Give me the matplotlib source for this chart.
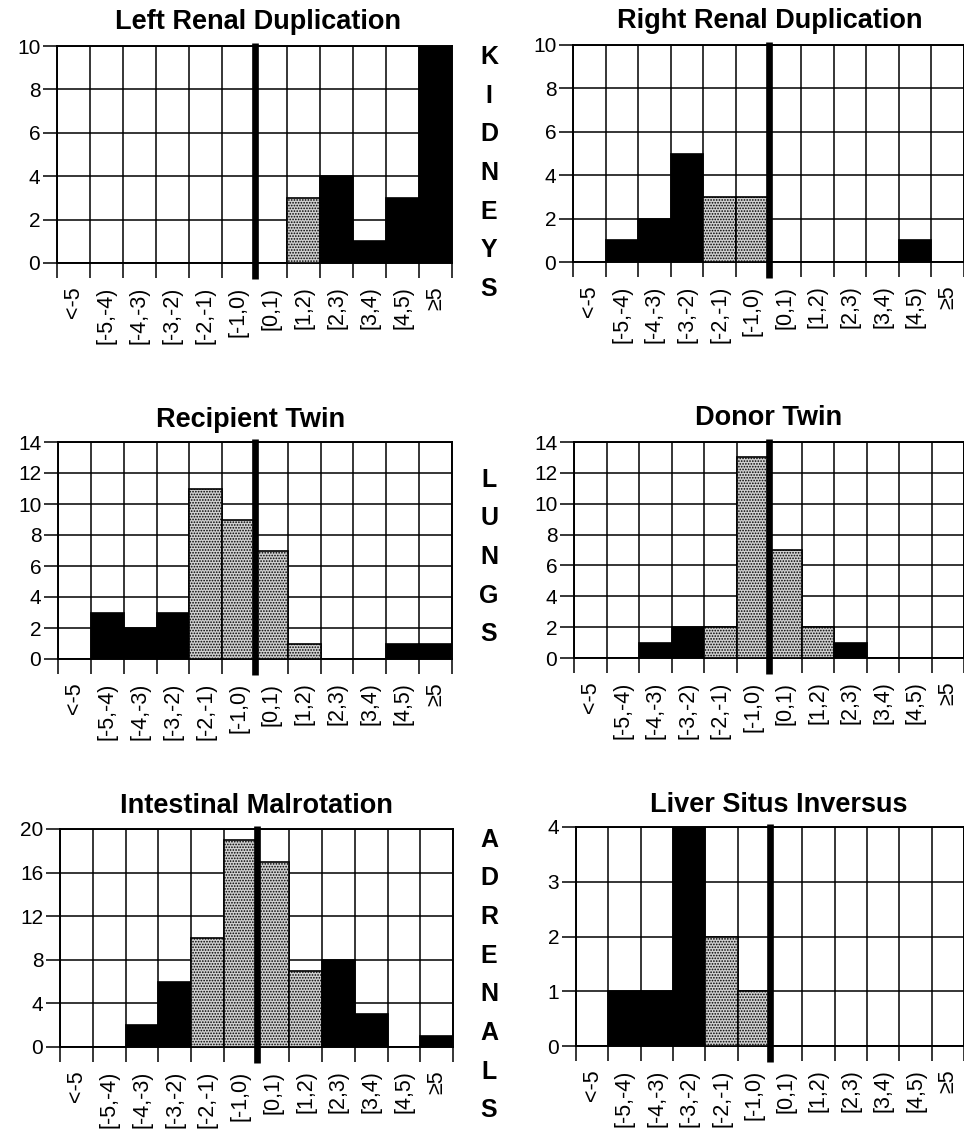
import numpy as np
import matplotlib
matplotlib.use('Agg')
import matplotlib.pyplot as plt

plt.rcParams['font.family'] = ['Liberation Sans', 'DejaVu Sans']
plt.rcParams['hatch.color'] = '#3a3a3a'
plt.rcParams['hatch.linewidth'] = 0.8

# ---------------- data ----------------
bins = ['<-5', '[-5,-4)', '[-4,-3)', '[-3,-2)', '[-2,-1)', '[-1,0)',
        '[0,1)', '[1,2)', '[2,3)', '[3,4)', '[4,5)', '\u22655']
stippled = [False, False, False, False, True, True, True, True,
            False, False, False, False]

left_renal = [0, 0, 0, 0, 0, 0, 0, 3, 4, 1, 3, 10]
right_renal = [0, 1, 2, 5, 3, 3, 0, 0, 0, 0, 1, 0]
recipient_twin = [0, 3, 2, 3, 11, 9, 7, 1, 0, 0, 1, 1]
donor_twin = [0, 0, 1, 2, 2, 13, 7, 2, 1, 0, 0, 0]
intestinal = [0, 0, 2, 6, 10, 19, 17, 7, 8, 3, 0, 1]
liver = [0, 1, 1, 4, 2, 1, 0, 0, 0, 0, 0, 0]

titles = ['Left Renal Duplication', 'Right Renal Duplication',
          'Recipient Twin', 'Donor Twin',
          'Intestinal Malrotation', 'Liver Situs Inversus']
series = [left_renal, right_renal, recipient_twin, donor_twin, intestinal, liver]
y_max = [10, 10, 14, 14, 20, 4]
y_step = [2, 2, 2, 2, 4, 1]
row_labels = ['KIDNEYS', 'LUNGS', 'ADRENALS']

# ---------------- layout (pixels) ----------------
W, H = 964, 1133
fig = plt.figure(figsize=(W / 100, H / 100), dpi=100)

boxes = [(57, 452, 46, 263), (573, 964, 45, 262),
         (58, 452, 442, 659), (574, 964, 442, 658),
         (60, 453, 829, 1047), (576, 964, 827, 1046)]
title_pos = [(258, 29), (770, 28), (251, 427), (769, 425), (256, 813), (779, 812)]
row_centers = [173, 557, 975]

for i in range(6):
    L, R, T, B = boxes[i]
    ax = fig.add_axes([L / W, 1 - B / H, (R - L) / W, (B - T) / H])
    n = len(bins)
    ax.set_xlim(0, n)
    ax.set_ylim(0, y_max[i])
    ax.set_xticks(np.arange(n + 1))
    ax.set_xticklabels([])
    ax.set_xticks(np.arange(n) + 0.5, minor=True)
    ax.set_xticklabels(bins, minor=True, rotation=90, fontsize=15.5)
    ax.tick_params(axis='x', which='major', length=10.8, width=1.1, direction='out')
    ax.tick_params(axis='x', which='minor', length=0, pad=17)
    ax.set_yticks(np.arange(0, y_max[i] + 1, y_step[i]))
    ax.tick_params(axis='y', length=10, width=1.1, pad=2, labelsize=15)
    ax.grid(which='major', color='black', lw=1.1)
    for s in ax.spines.values():
        s.set_linewidth(1.4)

    for j, v in enumerate(series[i]):
        if stippled[j]:
            ax.bar(j, v, width=1, align='edge', facecolor='#d0d0d0',
                   edgecolor='black', hatch='......', linewidth=1.2, zorder=3)
        else:
            ax.bar(j, v, width=1, align='edge', facecolor='black',
                   edgecolor='black', linewidth=1.2, zorder=3)

    ax.plot([6, 6], [-0.075, 1.015], transform=ax.get_xaxis_transform(),
            lw=4.8, color='black', clip_on=False, zorder=6, solid_capstyle='butt')

    tx, ty = title_pos[i]
    fig.text(tx / W, 1 - ty / H, titles[i], ha='center', va='baseline',
             fontsize=19.5, fontweight='bold')

for k, word in enumerate(row_labels):
    fig.text(489 / W, 1 - row_centers[k] / H, '\n'.join(word), ha='center',
             va='center', fontsize=18, fontweight='bold', linespacing=1.77,
             multialignment='center')

fig.savefig('out.png', dpi=100)
